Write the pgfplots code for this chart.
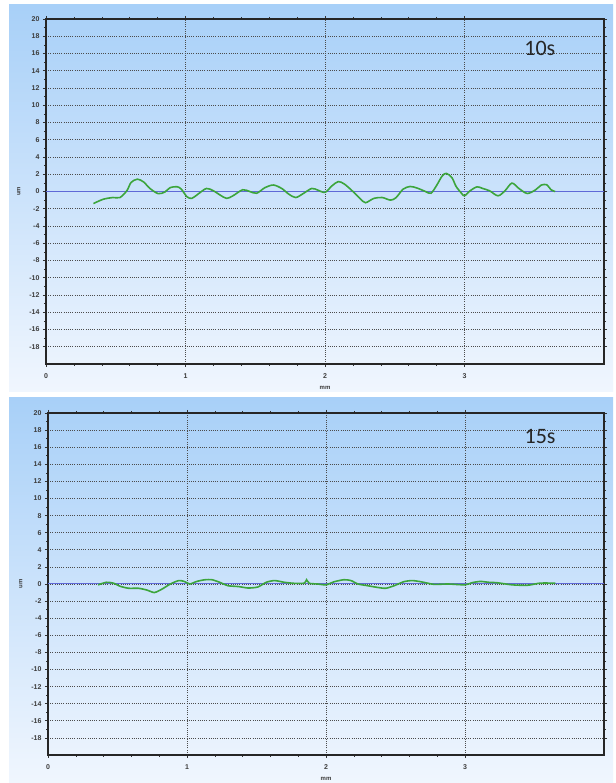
\documentclass[border=0pt]{standalone}
\usepackage{pgfplots}
\pgfplotsset{compat=1.18}
\usepackage{fontspec}
\setmainfont{Liberation Sans}
\newfontfamily\labelfont{Carlito}
\definecolor{bgtop}{RGB}{168,208,248}
\definecolor{bgbot}{RGB}{240,246,254}
\definecolor{zeroblue}{RGB}{95,105,215}
\definecolor{prof}{RGB}{60,165,60}
\definecolor{ticktxt}{RGB}{60,60,60}
\pgfplotsset{panel/.style={
  scale only axis,
  xmin=0, xmax=4, ymin=-20, ymax=20,
  xtick={0,1,2,3}, ytick={-18,-16,...,20},
  minor x tick num=4, minor y tick num=1,
  tick align=outside, major tick length=3pt, minor tick length=2pt,
  tick style={black!80, line width=0.6pt},
  grid=major,
  major grid style={dash pattern=on 1pt off 1.2pt, black!70, line width=0.7pt},
  axis line style={black!85, line width=1.3pt},
  ticklabel style={font=\fontsize{7}{8}\selectfont\bfseries, text=ticktxt},
  xticklabel style={yshift=-3pt},
  /pgf/number format/assume math mode=true,
  xlabel={mm}, ylabel={um},
  label style={font=\fontsize{6}{7}\selectfont\bfseries, text=ticktxt},
  xlabel style={yshift=-1pt},
  ylabel style={yshift=2pt},
  clip=true,
}}
\begin{document}
\begin{tikzpicture}
\useasboundingbox (0pt,0pt) rectangle (615pt,783pt);
\fill[white] (0pt,0pt) rectangle (615pt,783pt);
\shade[top color=bgtop, bottom color=bgbot] (9pt,391pt) rectangle (613pt,778pt);
\shade[top color=bgtop, bottom color=bgbot] (9pt,0pt) rectangle (613pt,385pt);

\begin{axis}[panel, at={(46pt,419pt)}, anchor=south west, width=558pt, height=345pt]
\addplot[zeroblue, line width=1pt] coordinates {(0,0) (4,0)};
\addplot[prof, line width=1.6pt, smooth, tension=0.5] coordinates {
(0.34,-1.4) (0.41,-0.9) (0.48,-0.7) (0.53,-0.7) (0.58,0.1) (0.61,1.05) (0.655,1.43) (0.70,1.1) (0.745,0.35) (0.805,-0.25) (0.853,-0.05) (0.89,0.45) (0.94,0.55) (0.97,0.27) (1.01,-0.6) (1.045,-0.8) (1.09,-0.3) (1.15,0.35) (1.20,0.08) (1.25,-0.43) (1.295,-0.8) (1.34,-0.5) (1.41,0.2) (1.46,0.0) (1.51,-0.2) (1.57,0.45) (1.63,0.75) (1.69,0.35) (1.74,-0.3) (1.79,-0.7) (1.845,-0.23) (1.905,0.35) (1.95,0.15) (2.0,-0.1) (2.05,0.65) (2.095,1.15) (2.14,0.85) (2.20,0) (2.25,-0.8) (2.29,-1.3) (2.35,-0.8) (2.41,-0.7) (2.47,-1.0) (2.51,-0.7) (2.56,0.27) (2.61,0.58) (2.66,0.4) (2.72,0.0) (2.76,-0.2) (2.80,0.7) (2.84,1.8) (2.87,2.1) (2.91,1.6) (2.94,0.58) (2.98,-0.23) (3.00,-0.5) (3.04,0.08) (3.09,0.54) (3.13,0.35) (3.18,0.08) (3.24,-0.5) (3.29,0.08) (3.34,0.97) (3.39,0.35) (3.45,-0.23) (3.51,0.2) (3.55,0.74) (3.59,0.78) (3.62,0.2) (3.65,0.0)
};
\node[font=\labelfont\fontsize{22}{24}\selectfont, text=black!85] at (axis cs:3.54,16.6) {10s};
\end{axis}

\begin{axis}[panel, at={(48pt,28pt)}, anchor=south west, width=556pt, height=342pt]
\addplot[zeroblue, line width=1pt] coordinates {(0,0) (4,0)};
\addplot[prof, line width=1.6pt, smooth, tension=0.4] coordinates {
(0.36,-0.1) (0.42,0.2) (0.47,0.1) (0.52,-0.27) (0.58,-0.5) (0.65,-0.5) (0.71,-0.7) (0.765,-1.0) (0.82,-0.6) (0.88,0) (0.94,0.4) (0.98,0.3) (1.02,0) (1.07,0.3) (1.13,0.5) (1.18,0.5) (1.235,0.2) (1.295,-0.2) (1.37,-0.3) (1.44,-0.47) (1.51,-0.35) (1.57,0.2) (1.63,0.4) (1.70,0.2) (1.77,0.08) (1.845,0.1) (1.86,0.5) (1.88,0.08) (1.94,0) (2.0,-0.1) (2.06,0.27) (2.13,0.5) (2.18,0.4) (2.23,0) (2.30,-0.2) (2.37,-0.4) (2.43,-0.5) (2.49,-0.2) (2.56,0.27) (2.62,0.4) (2.68,0.27) (2.73,0.1) (2.78,-0.05) (2.88,0.0) (3.0,-0.1) (3.05,0.15) (3.11,0.3) (3.17,0.2) (3.23,0.15) (3.34,-0.1) (3.45,-0.15) (3.54,0.1) (3.65,0.1)
};
\node[font=\labelfont\fontsize{22}{24}\selectfont, text=black!85] at (axis cs:3.54,17.2) {15s};
\end{axis}
\end{tikzpicture}
\end{document}
